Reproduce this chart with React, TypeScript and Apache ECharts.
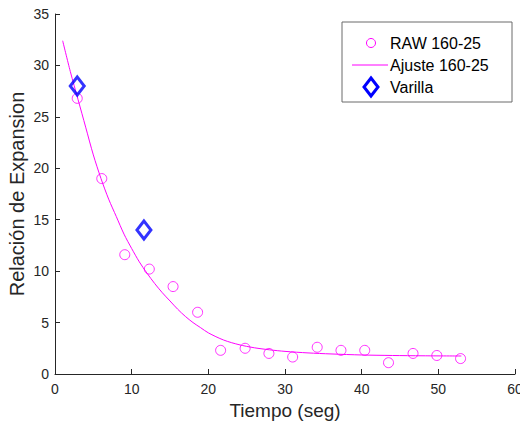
import React, { useEffect, useRef } from "react";
import * as echarts from "echarts";

const rawX = [2.9, 6.1, 9.1, 12.3, 15.4, 18.6, 21.6, 24.8, 27.9, 31.0, 34.2, 37.3, 40.4, 43.5, 46.7, 49.8, 52.9];
const rawY = [26.8, 19.0, 11.6, 10.2, 8.5, 6.0, 2.3, 2.5, 2.0, 1.65, 2.6, 2.3, 2.3, 1.1, 2.0, 1.8, 1.5];

const fitX = [1, 2, 3, 4, 5, 6, 7, 8, 9, 10, 11, 12, 13, 14, 15, 16, 17, 18, 19, 20, 22, 24, 26, 28, 30, 33, 36, 40, 44, 48, 53];
const fitY = [32.4, 29.4, 26.7, 24.0, 21.3, 19.0, 17.0, 15.3, 13.6, 12.2, 10.9, 9.8, 8.8, 7.9, 7.1, 6.3, 5.6, 5.0, 4.5, 4.0, 3.3, 2.85, 2.55, 2.35, 2.2, 2.05, 1.95, 1.85, 1.8, 1.77, 1.75];

const rodX = [2.9, 11.6];
const rodY = [28.0, 14.0];

const xTicks = [0, 10, 20, 30, 40, 50, 60];
const yTicks = [0, 5, 10, 15, 20, 25, 30, 35];

const legendNames = ["RAW 160-25", "Ajuste 160-25", "Varilla"];

const MAG = "#ff00ff";
const BLUE = "#0000ff";
const AX = "#262626";
const FONT = "'Liberation Sans', Arial, Helvetica, sans-serif";

export default function App() {
  const ref = useRef<HTMLDivElement>(null);
  useEffect(() => {
    if (!ref.current) return;
    const chart = echarts.init(ref.current, null, { renderer: "svg" });
    const lx = 342, ly = 22, lw = 170, lh = 80;
    const rows = [43, 65, 87];
    chart.setOption({
      animation: false,
      backgroundColor: "#ffffff",
      textStyle: { fontFamily: FONT },
      grid: { left: 55, right: 5, top: 14, bottom: 52, containLabel: false, outerBoundsMode: "none" },
      xAxis: {
        type: "value",
        min: xTicks[0],
        max: xTicks[xTicks.length - 1],
        interval: 10,
        name: "Tiempo (seg)",
        nameLocation: "middle",
        nameGap: 27,
        nameTextStyle: { fontSize: 19, color: AX, fontFamily: FONT },
        axisLine: { show: true, lineStyle: { color: AX, width: 1 } },
        axisTick: { show: true, inside: true, length: 5, lineStyle: { color: AX } },
        axisLabel: { color: AX, fontSize: 14, margin: 8, fontFamily: FONT },
        splitLine: { show: false },
      },
      yAxis: {
        type: "value",
        min: yTicks[0],
        max: yTicks[yTicks.length - 1],
        interval: 5,
        name: "Relación de Expansion",
        nameLocation: "middle",
        nameMoveOverlap: false,
        nameGap: 28,
        nameTextStyle: { fontSize: 20, color: AX, fontFamily: FONT },
        axisLine: { show: true, lineStyle: { color: AX, width: 1 } },
        axisTick: { show: true, inside: true, length: 5, lineStyle: { color: AX } },
        axisLabel: { color: AX, fontSize: 14, margin: 6, fontFamily: FONT },
        splitLine: { show: false },
      },
      series: [
        {
          name: legendNames[1],
          type: "line",
          data: fitX.map((x, i) => [x, fitY[i]]),
          showSymbol: false,
          smooth: 0.3,
          lineStyle: { color: MAG, width: 1 },
          z: 1,
        },
        {
          name: legendNames[0],
          type: "scatter",
          data: rawX.map((x, i) => [x, rawY[i]]),
          symbol: "circle",
          symbolSize: 10,
          itemStyle: { color: "rgba(0,0,0,0)", borderColor: MAG, borderWidth: 1 },
          z: 2,
        },
        {
          name: legendNames[2],
          type: "scatter",
          data: rodX.map((x, i) => [x, rodY[i]]),
          symbol: "diamond",
          symbolSize: [14, 18],
          itemStyle: { color: "rgba(0,0,0,0)", borderColor: BLUE, borderWidth: 3 },
          z: 3,
        },
      ],
      graphic: [
        {
          type: "rect",
          shape: { x: lx, y: ly, width: lw, height: lh },
          style: { fill: "#ffffff", stroke: "#6b6b6b", lineWidth: 1 },
          z: 10,
        },
        {
          type: "circle",
          shape: { cx: 371, cy: rows[0], r: 4.5 },
          style: { fill: "none", stroke: MAG, lineWidth: 1 },
          z: 11,
        },
        {
          type: "line",
          shape: { x1: 352, y1: rows[1], x2: 388, y2: rows[1] },
          style: { stroke: MAG, lineWidth: 1 },
          z: 11,
        },
        {
          type: "polygon",
          shape: { points: [[371, rows[2] - 9], [378, rows[2]], [371, rows[2] + 9], [364, rows[2]]] },
          style: { fill: "none", stroke: BLUE, lineWidth: 3 },
          z: 11,
        },
        ...legendNames.map((n, i) => ({
          type: "text",
          x: 390,
          y: rows[i],
          style: { text: n, fill: "#000000", fontSize: 16, fontFamily: FONT, verticalAlign: "middle", align: "left" },
          z: 11,
        })),
      ],
    });
    return () => chart.dispose();
  }, []);
  return <div ref={ref} style={{ position: "fixed", left: 0, top: 0, width: 520, height: 426 }} />;
}
